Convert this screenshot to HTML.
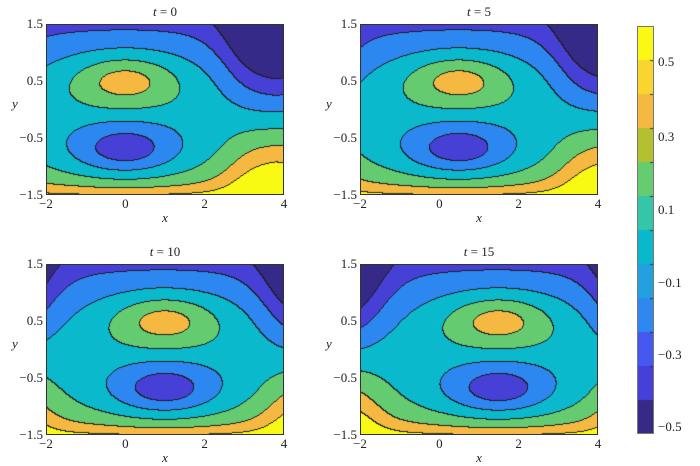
<!DOCTYPE html>
<html><head><meta charset="utf-8"><style>
body{margin:0;background:#fff;width:700px;height:466px;overflow:hidden;position:relative;font-family:"Liberation Serif",serif;font-size:13px;color:#222}
canvas{position:absolute}
.l{position:absolute;white-space:nowrap;line-height:13px}
.ax{position:absolute;border:1px solid #333;box-sizing:border-box}
</style></head><body>
<div id="root"></div>
<script>
const W=700;
const cols=["#352a87","#4640d6","#2d87f0","#0ab9cc","#65cb70","#f5b942","#f8fa14"];
const rgb=cols.map(c=>[parseInt(c.substr(1,2),16),parseInt(c.substr(3,2),16),parseInt(c.substr(5,2),16)]);
const lev=[-0.5,-0.3,-0.1,0.1,0.3,0.5];
function sinh(v){return (Math.exp(v)-Math.exp(-v))/2}
function f(x,y,t){
 let xs=x-0.1*t; xs=((xs+4)%8+8)%8-4;
 let d=xs-3.8; d=((d+4)%8+8)%8-4;
 let w=1/(1+Math.exp((Math.abs(d)-1.0)/0.35));
 let bl;
 if(y>0) bl=-(0.19*y+0.025*y*y*y);
 else {const a=-y; bl=0.1*a+0.00265*sinh(3.8*a);}
 let br=-0.72*(y+0.2);
 let b=(1-w)*bl+w*br;
 function g(cy){let r2=(xs/1.4)**2+((y-cy)/0.48)**2;return Math.exp(-Math.pow(r2,0.84));}
 return b+0.52*g(0.5)-0.55*g(-0.7);
}
const root=document.getElementById('root');
function lab(txt,x,y,al,extra){const e=document.createElement('div');e.className='l';e.innerHTML=txt;e.style.top=(y-7)+'px';
 if(al==='r'){e.style.right=(W-x)+'px';}else if(al==='c'){e.style.left=(x-30)+'px';e.style.width='60px';e.style.textAlign='center';}else e.style.left=x+'px';
 if(extra)e.style.cssText+=extra;root.appendChild(e);}
const panels=[[46,24,0],[360,24,5],[46,264,10],[360,264,15]];
for(const [px,py,t] of panels){
 const w=238,h=171;
 const c=document.createElement('canvas');c.width=w;c.height=h;c.style.left=px+'px';c.style.top=py+'px';root.appendChild(c);
 const ctx=c.getContext('2d');const img=ctx.createImageData(w,h);
 const idx=new Int8Array(w*h);
 for(let j=0;j<h;j++)for(let i=0;i<w;i++){
  const x=-2+6*(i+0.5)/w, y=1.5-3*(j+0.5)/h;
  const v=f(x,y,t);let k=0;while(k<6&&v>lev[k])k++;idx[j*w+i]=k;}
 for(let j=0;j<h;j++)for(let i=0;i<w;i++){
  const k=idx[j*w+i];let edge=false;
  if(i<w-1&&idx[j*w+i+1]!==k)edge=true;
  if(j<h-1&&idx[(j+1)*w+i]!==k)edge=true;
  const p=(j*w+i)*4;const c2=edge?[30,30,30]:rgb[k];
  img.data[p]=c2[0];img.data[p+1]=c2[1];img.data[p+2]=c2[2];img.data[p+3]=255;}
 ctx.putImageData(img,0,0);
 const a=document.createElement('div');a.className='ax';a.style.left=px+'px';a.style.top=py+'px';a.style.width=w+'px';a.style.height=h+'px';root.appendChild(a);
 lab('<i>t</i> = '+t,px+w/2,py-12,'c');
 ['1.5','0.5','\u22120.5','\u22121.5'].forEach((s,n)=>{const yy=py+[0,57,114,171][n];lab(s,px-3,yy,'r');});
 ['\u22122','0','2','4'].forEach((s,n)=>{lab(s,px+n*w/3,py+h+9,'c');});
 lab('<i>x</i>',px+w/2,py+h+23,'c');
 lab('<i>y</i>',px-34,py+80,'l');
}
const cb=document.createElement('canvas');cb.width=17;cb.height=408;cb.style.left='637px';cb.style.top='26px';root.appendChild(cb);
const cc=cb.getContext('2d');
const cbc=["#352a87","#4540d8","#4558f0","#2e88f0","#22a0e0","#0ab8cc","#35c5a8","#65cc70","#b5c030","#f5b840","#fad530","#f9f915"];
for(let k=0;k<12;k++){cc.fillStyle=cbc[k];cc.fillRect(0,408-(k+1)*34,17,34);}
cc.fillStyle="#333";for(let k=1;k<12;k++){cc.fillRect(13,k*34,4,1);}
const cba=document.createElement('div');cba.className='ax';cba.style.cssText='left:637px;top:26px;width:17px;height:408px;border-color:#777';root.appendChild(cba);
[['0.5',62],['0.3',137],['0.1',210],['\u22120.1',283],['\u22120.3',355],['\u22120.5',427]].forEach(([s,y])=>lab(s,658,y,'l'));
</script>
</body></html>
